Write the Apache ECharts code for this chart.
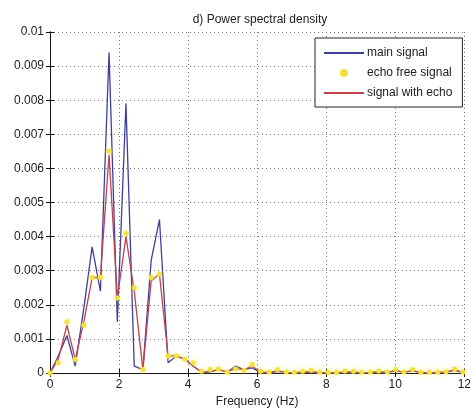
<!DOCTYPE html>
<html>
<head>
<meta charset="utf-8">
<script src="https://cdn.jsdelivr.net/npm/echarts@6/dist/echarts.min.js"></script>
<style>
  html, body { margin: 0; padding: 0; background: #fff; }
  #chart { width: 474px; height: 413px; }
</style>
</head>
<body>
<div id="chart"></div>
<script>
const freq = [0, 0.24, 0.49, 0.73, 0.98, 1.22, 1.46, 1.71, 1.95, 2.2,
    2.44, 2.69, 2.93, 3.17, 3.42, 3.66, 3.91, 4.15, 4.39, 4.64,
    4.88, 5.13, 5.37, 5.62, 5.86, 6.1, 6.35, 6.59, 6.84, 7.08,
    7.32, 7.57, 7.81, 8.06, 8.3, 8.54, 8.79, 9.03, 9.28, 9.52,
    9.77, 10.01, 10.25, 10.5, 10.74, 10.99, 11.23, 11.47, 11.72, 11.96];

const mainSignal = [0, 0.0005, 0.0011, 0.0002, 0.0019, 0.0037, 0.0024, 0.0094, 0.0015, 0.0079,
    0.0002, 0.0001, 0.0033, 0.0045, 0.0003, 0.0005, 0.0004, 0.0002, 0.00002, 0.00003,
    0.0001, 0.00003, 0.0002, 0.0001, 0.00015, 0.00001, 0, 0.00005, 0.00002, 0,
    0.00001, 0.00002, 0.00001, 0, 0, 0.00001, 0.00002, 0, 0.00001, 0.00002,
    0.00001, 0.00007, 0.00002, 0.00006, 0.00001, 0, 0.00001, 0.00002, 0.00008, 0.00001];

const echoFree = [0, 0.0003, 0.0015, 0.0004, 0.0014, 0.0028, 0.0028, 0.0065, 0.0022, 0.0041,
    0.0025, 0.0001, 0.0028, 0.0029, 0.0005, 0.0005, 0.0004, 0.0003, 0.00005, 0.0001,
    0.00012, 0.00002, 0.00012, 0.00008, 0.00025, 0.00005, 0.00003, 0.0001, 0.00003, 0.00002,
    0.00005, 0.00008, 0.00003, 0.00002, 0.00002, 0.00006, 0.00005, 0.00002, 0.00003, 0.00006,
    0.00003, 0.0001, 0.00003, 0.0001, 0.00002, 0.00002, 0.00003, 0.00004, 0.00012, 0.00003];

const withEcho = [0, 0.0004, 0.0014, 0.0004, 0.0015, 0.0028, 0.0028, 0.0064, 0.0022, 0.0040,
    0.0024, 0.0001, 0.0027, 0.0029, 0.0005, 0.0005, 0.0004, 0.0002, 0.00003, 0.00005,
    0.0001, 0.00003, 0.00013, 0.0001, 0.0002, 0.00003, 0.00002, 0.00007, 0.00002, 0.00001,
    0.00003, 0.00004, 0.00002, 0.00001, 0.00001, 0.00003, 0.00003, 0.00001, 0.00002, 0.00004,
    0.00002, 0.00008, 0.00002, 0.00008, 0.00001, 0.00001, 0.00002, 0.00003, 0.0001, 0.00002];

const seriesNames = ['main signal', 'echo free signal', 'signal with echo'];
const xTicks = [0, 12, 2];      // min, max, intervalo
const yTicks = [0, 0.01, 0.001];

const font = 'Liberation Sans';
const pair = (vals) => freq.map((f, i) => [f, vals[i]]);

const chart = echarts.init(document.getElementById('chart'), null, { renderer: 'canvas' });

// Ejes "espejo" arriba y a la derecha para cerrar la caja, al estilo MATLAB
const boxAxisLine = { show: true, lineStyle: { color: '#111', width: 1 } };
const gridLine = { show: true, lineStyle: { color: '#777', type: [1, 3], width: 1 } };

const option = {
    backgroundColor: '#fff',
    animation: false,
    title: {
        text: 'd) Power spectral density',
        left: 255,
        textAlign: 'center',
        top: 9,
        textStyle: { fontFamily: font, fontSize: 12, fontWeight: 'normal', color: '#222' }
    },
    grid: { left: 50, right: 4, top: 32, bottom: 40 },
    legend: {
        // en la leyenda, las líneas sin marcador
        data: [
            { name: seriesNames[0], itemStyle: { opacity: 0 } },
            { name: seriesNames[1] },
            { name: seriesNames[2], itemStyle: { opacity: 0 } }
        ],
        orient: 'vertical',
        left: 315,
        top: 38,
        width: 146,
        padding: [9, 10, 8, 8],
        itemGap: 8,
        itemWidth: 40,
        itemHeight: 10,
        backgroundColor: '#fff',
        borderColor: '#222',
        borderWidth: 1,
        borderRadius: 0,
        textStyle: { fontFamily: font, fontSize: 12, color: '#222', padding: [0, 0, 0, -2] }
    },
    xAxis: [{
        type: 'value',
        min: xTicks[0], max: xTicks[1], interval: xTicks[2],
        name: 'Frequency (Hz)',
        nameLocation: 'middle',
        nameGap: 22,
        nameTextStyle: { fontFamily: font, fontSize: 12, color: '#222' },
        axisLine: boxAxisLine,
        axisTick: { show: true, inside: true, length: 4, lineStyle: { color: '#111' } },
        axisLabel: { fontFamily: font, fontSize: 12, color: '#222', margin: 6 },
        splitLine: gridLine
    }, {
        type: 'value',
        position: 'top',
        min: xTicks[0], max: xTicks[1], interval: xTicks[2],
        axisLine: boxAxisLine,
        axisTick: { show: true, inside: true, length: 4, lineStyle: { color: '#111' } },
        axisLabel: { show: false },
        splitLine: { show: false }
    }],
    yAxis: [{
        type: 'value',
        min: yTicks[0], max: yTicks[1], interval: yTicks[2],
        axisLine: boxAxisLine,
        axisTick: { show: true, inside: true, length: 4, lineStyle: { color: '#111' } },
        axisLabel: {
            fontFamily: font, fontSize: 12, color: '#222', margin: 6,
            formatter: (v) => String(+v.toFixed(3))
        },
        splitLine: gridLine
    }, {
        type: 'value',
        position: 'right',
        min: yTicks[0], max: yTicks[1], interval: yTicks[2],
        axisLine: boxAxisLine,
        axisTick: { show: true, inside: true, length: 4, lineStyle: { color: '#111' } },
        axisLabel: { show: false },
        splitLine: { show: false }
    }],
    series: [{
        name: seriesNames[0],
        type: 'line',
        data: pair(mainSignal),
        symbol: 'none',
        lineStyle: { color: '#3c3f9c', width: 1.3 },
        itemStyle: { color: '#3c3f9c' }
    }, {
        name: seriesNames[1],
        type: 'line',
        data: pair(echoFree),
        symbol: 'circle',
        symbolSize: 5,
        showAllSymbol: true,
        lineStyle: { width: 0, opacity: 0 },
        itemStyle: {
            color: '#f3e23c',
            shadowBlur: 4,
            shadowColor: 'rgba(245, 230, 80, 0.8)'
        }
    }, {
        name: seriesNames[2],
        type: 'line',
        data: pair(withEcho),
        symbol: 'none',
        lineStyle: { color: '#c0404e', width: 1.3 },
        itemStyle: { color: '#c0404e' }
    }]
};

chart.setOption(option);
</script>
</body>
</html>
